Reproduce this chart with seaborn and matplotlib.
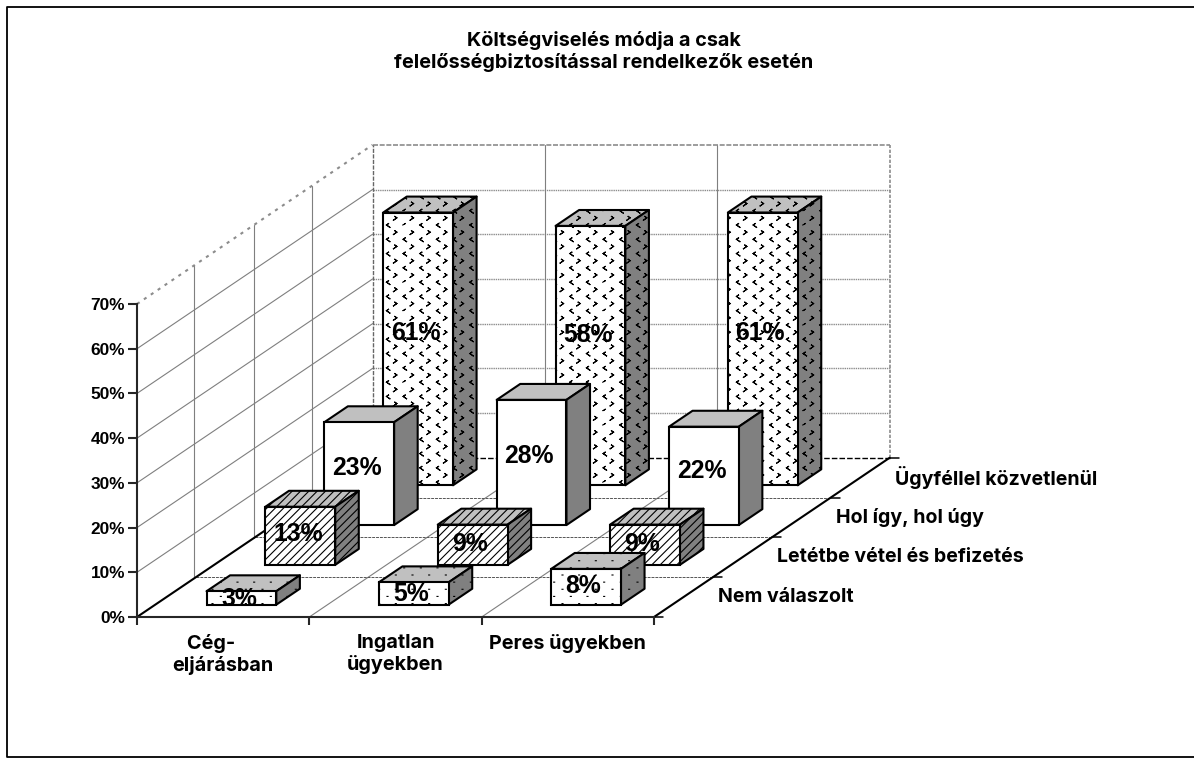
import warnings
import numpy as np
import pandas as pd
import matplotlib
matplotlib.use("Agg")
import matplotlib.pyplot as plt
import matplotlib.hatch as mhatch
from matplotlib.path import Path
from matplotlib.patches import Polygon
from matplotlib.transforms import Affine2D, IdentityTransform
import seaborn as sns

warnings.filterwarnings("ignore")

title = "Költségviselés módja a csak\nfelelősségbiztosítással rendelkezők esetén"
categories = ["Cég-     \neljárásban", "Ingatlan\nügyekben", "Peres ügyekben"]
series_names = ["Nem válaszolt", "Letétbe vétel és befizetés", "Hol így, hol úgy", "Ügyféllel közvetlenül"]
nem_valaszolt = [3, 5, 8]
letetbe = [13, 9, 9]
hol_igy = [23, 28, 22]
ugyfellel = [61, 58, 61]
y_ticks = [0, 10, 20, 30, 40, 50, 60, 70]

W, H = 1194, 758
DEPTH_X, DEPTH_Y = 58.9, 39.8   # pixels per depth row
BAR_WIDTH = 0.405
WIDE_FONT = ["Inter", "Liberation Sans", "DejaVu Sans"]


# chevrons and dots as in the old office pattern fills
class LatticeHatch(mhatch.HatchPatternBase):
    def __init__(self, hatch, density):
        self.chevron = "c" in hatch
        self.dots = "p" in hatch
        self.cols, self.rows = 6, 7
        n = self.cols * self.rows * 2
        self.num_vertices = n * 5 if self.chevron else (n * 2 if self.dots else 0)

    def set_vertices_and_codes(self, vertices, codes):
        k = 0
        for i in range(self.cols):
            for j in range(self.rows):
                for half, sign in ((0, -1), (0.5, 1)):
                    x = (i + half + 0.25) / self.cols
                    y = (j + half + 0.25) / self.rows
                    if self.chevron:
                        pts = [(x - sign * 0.010, y + 0.014), (x + sign * 0.010, y), (x - sign * 0.010, y - 0.014)]
                        pts = pts + [pts[1], pts[0]]
                        vertices[k:k + 5] = pts
                        codes[k:k + 5] = [Path.MOVETO] + [Path.LINETO] * 4
                        k += 5
                    else:
                        vertices[k:k + 2] = [(x - 0.005, y), (x + 0.005, y)]
                        codes[k:k + 2] = [Path.MOVETO, Path.LINETO]
                        k += 2


mhatch._hatch_types.append(LatticeHatch)

sns.set_style("white")
plt.rcParams["font.family"] = ["Liberation Sans", "DejaVu Sans"]
plt.rcParams["font.weight"] = "bold"
plt.rcParams["hatch.linewidth"] = 0.8

rows = pd.DataFrame({
    "category": categories * 4,
    "series": np.repeat(series_names, 3),
    "depth": np.repeat([0, 1, 2, 3], 3),
    "value": nem_valaszolt + letetbe + hol_igy + ugyfellel,
})
hatches = {0: "p", 1: "////", 2: None, 3: "c"}

fig = plt.figure(figsize=(W / 100, H / 100), dpi=100)
# frame: open on the right, as in the scan
fig.add_artist(plt.Line2D([1, 7 / W, 7 / W, 1], [(H - 7) / H, (H - 7) / H, 0.8 / H, 0.8 / H],
                          color="black", lw=1.3, transform=fig.transFigure))
ax = fig.add_axes([137 / W, (H - 617) / H, 517 / W, 313 / H])
ax.patch.set_alpha(0)
ax.set_xlim(-0.5, 2.5)
ax.set_ylim(0, 70)


def project(x, v, d):
    px = ax.transData.transform((x, v))
    return (px[0] + d * DEPTH_X, px[1] + d * DEPTH_Y)


def wall_line(p0, p1, color="#7f7f7f", lw=0.8, ls="-", z=1):
    ax.plot([p0[0], p1[0]], [p0[1], p1[1]], color=color, lw=lw, ls=ls, zorder=z,
            transform=IdentityTransform(), clip_on=False)


# left wall and back wall
for v in y_ticks[1:-1]:
    wall_line(project(-0.5, v, 0), project(-0.5, v, 4))
    wall_line(project(-0.5, v, 4), project(2.5, v, 4), color="#8c8c8c", lw=1.0, ls=(0, (1, 0.6)))
for d in [0.97, 1.99, 2.97]:
    wall_line(project(-0.5, 0, d), project(-0.5, 70, d))
for x in [0.5, 1.5]:
    wall_line(project(x, 0, 4), project(x, 70, 4))
    wall_line(project(x, 0, 0), project(x, 0, 4), lw=0.8)
wall_line(project(-0.5, 70, 0), project(-0.5, 70, 4), color="#8c8c8c", lw=1.5, ls=(0, (1.5, 2.5)))
wall_line(project(-0.5, 70, 4), project(2.5, 70, 4), color="#8c8c8c", lw=1.2, ls=(0, (3, 1)))
wall_line(project(-0.5, 0, 4), project(-0.5, 70, 4), color="#666666", lw=1.0, ls=(0, (3, 1)))
wall_line(project(2.5, 0, 4), project(2.5, 70, 4), color="#8c8c8c", lw=1.2, ls=(0, (2, 1)))

# floor
for d in [1, 2, 3]:
    end = project(2.5, 0, d)
    wall_line(project(-0.5, 0, d), end, color="#555555", lw=0.7, ls=(0, (3, 1)))
for d in [0, 1, 2, 3, 4]:
    end = project(2.5, 0, d)
    wall_line(end, (end[0] + 9, end[1]), color="black", lw=1.1)
wall_line(project(-0.5, 0, 4), project(2.5, 0, 4), color="black", lw=1.0, ls=(0, (4, 1.5)))
wall_line(project(-0.5, 0, 0), project(-0.5, 0, 4), color="black", lw=1.5, z=2)
wall_line(project(2.5, 0, 0), project(2.5, 0, 4), color="black", lw=1.5, z=2)

# bars, back row first so the front rows cover them
label_shift = {(3, 1): 5}   # the 58% label sits level with the 61% ones
for depth in [3, 2, 1, 0]:
    row = rows[rows["depth"] == depth]
    z = 10 + (3 - depth) * 2
    front = 0.31 + depth
    back = front + 0.4
    offset = ax.transData + Affine2D().translate(front * DEPTH_X, front * DEPTH_Y)
    before = len(ax.patches)
    sns.barplot(data=row, x="category", y="value", color="white", saturation=1, errorbar=None,
                width=BAR_WIDTH, edgecolor="black", linewidth=1.5, hatch=hatches[depth],
                transform=offset, clip_on=False, zorder=z + 1, ax=ax)
    for col_i, bar in enumerate(ax.patches[before:]):
        x0, x1 = bar.get_x(), bar.get_x() + bar.get_width()
        v = bar.get_height()
        top = [project(x0, v, front), project(x1, v, front), project(x1, v, back), project(x0, v, back)]
        side = [project(x1, 0, front), project(x1, v, front), project(x1, v, back), project(x1, 0, back)]
        for pts, col in ((top, "#c0c0c0"), (side, "#808080")):
            ax.add_patch(Polygon(pts, closed=True, facecolor=col, edgecolor="black", lw=1.5,
                                 hatch=hatches[depth], transform=IdentityTransform(),
                                 clip_on=False, zorder=z, joinstyle="round"))
        px, py = project((x0 + x1) / 2, v * 0.565, front)
        ax.text(px - 2.5, py - 1.5 + label_shift.get((depth, col_i), 0), f"{v:.0f}%", fontsize=17.8,
                ha="center", va="center", color="black", transform=IdentityTransform(), zorder=z + 1.5)

ax.set_xlim(-0.5, 2.5)
ax.set_ylim(0, 70)
ax.set_xlabel("")
ax.set_ylabel("")
sns.despine(ax=ax)
ax.spines["left"].set_linewidth(1.5)
ax.spines["bottom"].set_linewidth(1.5)
ax.spines["left"].set_zorder(3)
ax.spines["bottom"].set_zorder(3)

ax.set_yticks(y_ticks, [f"{t}%" for t in y_ticks], fontsize=12.4, fontweight="bold", color="black")
ax.set_xticks([-0.5, 0.5, 1.5, 2.5], ["", "", "", ""])
ax.set_xticks([0, 1, 2], categories, minor=True, fontsize=14.3, fontweight="bold", linespacing=1.22,
              color="black", family=WIDE_FONT)
ax.tick_params(axis="y", which="major", left=True, length=6.5, width=1.5, pad=2)
ax.tick_params(axis="x", which="major", bottom=True, length=6, width=1.5)
ax.tick_params(axis="x", which="minor", bottom=False, length=0, pad=12)

# series names along the right floor edge
for depth, name in enumerate(series_names):
    px, py = project(2.5, 0, depth + 0.5)
    ax.text(px + 35, py, name, fontsize=14.1, ha="left", va="center", family=WIDE_FONT,
            transform=IdentityTransform(), color="black")

fig.text(604 / W, (H - 51) / H, title, fontsize=14.3, fontweight="bold", ha="center", va="center",
         linespacing=1.2, color="black", family=WIDE_FONT)

fig.savefig("out.png", dpi=100)
